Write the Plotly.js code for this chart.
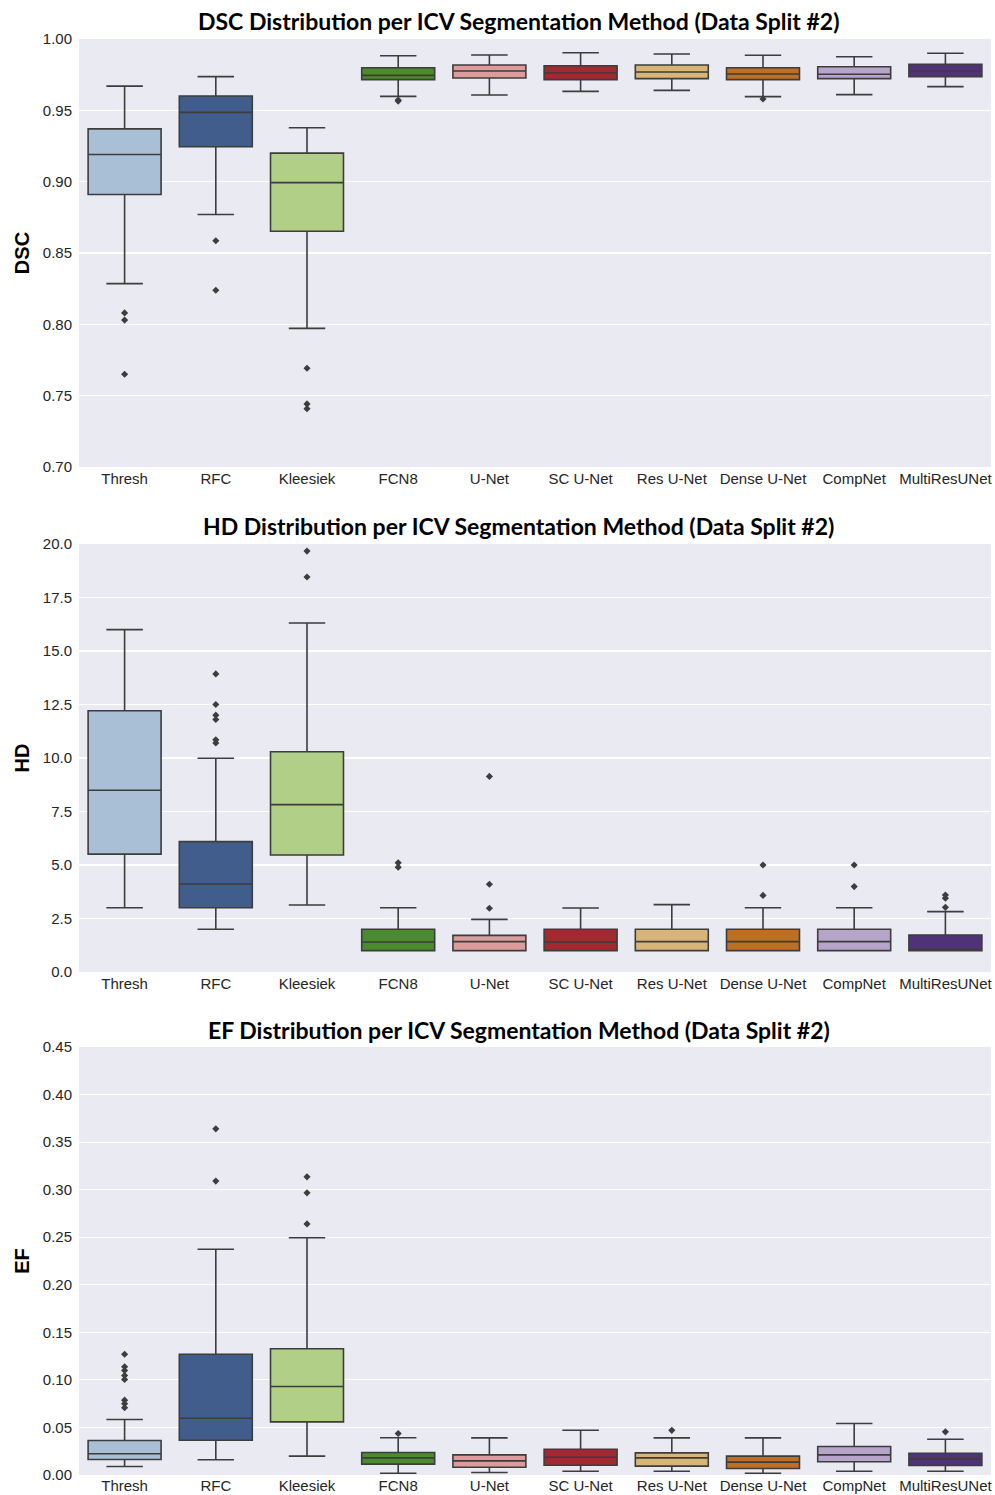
<!DOCTYPE html>
<html>
<head>
<meta charset="utf-8">
<script src="https://cdn.plot.ly/plotly-3.0.1.min.js"></script>
<style>html,body{margin:0;padding:0;background:#fff;}#chart{width:995px;height:1495px;}</style>
</head>
<body>
<div id="chart"></div>
<script>
const categories = ["Thresh","RFC","Kleesiek","FCN8","U-Net","SC U-Net","Res U-Net","Dense U-Net","CompNet","MultiResUNet"];
const boxColors = ["#a9bfd5","#405d8c","#b2cf88","#4b8a2e","#db9c9b","#a02a2f","#d8b477","#bc6f25","#b7a4ca","#503376"];

// DSC
const dscLower  = [0.8285,0.877,0.7972,0.9598,0.9607,0.9633,0.964,0.9596,0.961,0.9666];
const dscQ1     = [0.891,0.9245,0.8652,0.9715,0.9727,0.9715,0.9722,0.9715,0.9722,0.9736];
const dscMedian = [0.919,0.9486,0.8993,0.9745,0.9776,0.9762,0.9769,0.9755,0.9753,0.9774];
const dscQ3     = [0.937,0.960,0.920,0.9799,0.9818,0.9813,0.9818,0.9799,0.9806,0.9823];
const dscUpper  = [0.967,0.9736,0.9378,0.9883,0.9888,0.9904,0.9895,0.9886,0.9876,0.990];
const dscOutliers = [[0.808,0.803,0.765],[0.8586,0.8239],[0.7692,0.7442,0.7409],[0.9572,0.9565],[],[],[],[0.958],[],[]];

// HD
const hdLower  = [3.0,2.0,3.13,1.0,1.0,1.0,1.0,1.0,1.0,1.0];
const hdQ1     = [5.51,3.0,5.47,1.0,1.0,1.0,1.0,1.0,1.0,1.0];
const hdMedian = [8.49,4.11,7.82,1.40,1.42,1.40,1.42,1.42,1.42,1.0];
const hdQ3     = [12.21,6.09,10.29,2.0,1.71,2.0,2.0,2.0,2.0,1.73];
const hdUpper  = [16.0,9.99,16.31,3.0,2.46,2.99,3.15,3.0,3.0,2.82];
const hdOutliers = [[],[13.93,12.5,12.0,11.8,10.85,10.7],[19.67,18.46],[5.1,4.9],[9.14,4.1,2.98],[],[],[5.0,3.58],[5.0,3.99],[3.6,3.45,3.02]];

// EF
const efLower  = [0.0089,0.016,0.0198,0.0019,0.0026,0.004,0.004,0.0019,0.004,0.004];
const efQ1     = [0.0163,0.0366,0.0559,0.0114,0.0082,0.0103,0.0093,0.0068,0.0139,0.010];
const efMedian = [0.0223,0.0597,0.093,0.018,0.0149,0.0187,0.018,0.0135,0.0212,0.017];
const efQ3     = [0.0363,0.127,0.1327,0.0237,0.0212,0.0271,0.0233,0.0198,0.030,0.0229];
const efUpper  = [0.0584,0.2374,0.2494,0.0391,0.039,0.0471,0.039,0.039,0.0541,0.0376];
const efOutliers = [[0.127,0.1138,0.1099,0.1046,0.1004,0.0787,0.0749,0.0707],[0.364,0.309],[0.3135,0.2967,0.264],[0.0436],[],[],[0.047],[],[],[0.0454]];

const titles = [
  "DSC Distribution per ICV Segmentation Method (Data Split #2)",
  "HD Distribution per ICV Segmentation Method (Data Split #2)",
  "EF Distribution per ICV Segmentation Method (Data Split #2)"
];
const yTitles = ["DSC","HD","EF"];

const panels = [
  {lo:dscLower,q1:dscQ1,med:dscMedian,q3:dscQ3,hi:dscUpper,out:dscOutliers,xa:"x",ya:"y"},
  {lo:hdLower,q1:hdQ1,med:hdMedian,q3:hdQ3,hi:hdUpper,out:hdOutliers,xa:"x2",ya:"y2"},
  {lo:efLower,q1:efQ1,med:efMedian,q3:efQ3,hi:efUpper,out:efOutliers,xa:"x3",ya:"y3"}
];

const lineCol = "#3d3d3d";
const traces = [];
panels.forEach(p => {
  categories.forEach((c, i) => {
    traces.push({
      type: "box", x: [c],
      q1: [p.q1[i]], median: [p.med[i]], q3: [p.q3[i]],
      lowerfence: [p.lo[i]], upperfence: [p.hi[i]],
      boxpoints: false, width: 0.8, whiskerwidth: 0.5,
      fillcolor: boxColors[i], line: {color: lineCol, width: 1.6},
      xaxis: p.xa, yaxis: p.ya, showlegend: false, hoverinfo: "skip"
    });
  });
  const ox = [], oy = [];
  categories.forEach((c, i) => { p.out[i].forEach(v => { ox.push(c); oy.push(v); }); });
  traces.push({
    type: "scatter", mode: "markers", x: ox, y: oy,
    marker: {symbol: "diamond", size: 5.5, color: lineCol},
    xaxis: p.xa, yaxis: p.ya, showlegend: false, hoverinfo: "skip"
  });
});

const H = 1495;
const dom = (top, bot) => [1 - bot / H, 1 - top / H];
const FAM = '"Liberation Sans", Arial, sans-serif';
const tickFont = {family: FAM, size: 15, color: "#262626"};
const xBase = {type: "category", categoryorder: "array", categoryarray: categories,
  showgrid: false, zeroline: false, showline: false, ticks: "", tickfont: tickFont,
  ticklabelstandoff: 1, range: [-0.5, 9.5]};
const yBase = {showgrid: true, gridcolor: "#ffffff", gridwidth: 1.2, zeroline: false, showline: false,
  ticks: "", tickfont: tickFont, ticklabelstandoff: 6};
const yTitle = t => ({text: t, font: {family: FAM, size: 20, color: "#000", weight: "bold"}, standoff: 7});

const layout = {
  width: 995, height: 1495,
  margin: {l: 79, r: 3.5, t: 0, b: 0},
  paper_bgcolor: "#ffffff", plot_bgcolor: "#eaeaf2",
  boxmode: "overlay", showlegend: false,
  xaxis:  Object.assign({}, xBase, {domain: [0, 1], anchor: "y"}),
  xaxis2: Object.assign({}, xBase, {domain: [0, 1], anchor: "y2"}),
  xaxis3: Object.assign({}, xBase, {domain: [0, 1], anchor: "y3", ticklabelstandoff: 0}),
  yaxis:  Object.assign({}, yBase, {domain: dom(39, 467), anchor: "x", range: [0.70, 1.00], dtick: 0.05, tick0: 0, tickformat: ".2f", title: yTitle(yTitles[0])}),
  yaxis2: Object.assign({}, yBase, {domain: dom(544, 972), anchor: "x2", range: [0, 20], dtick: 2.5, tick0: 0, tickformat: ".1f", title: yTitle(yTitles[1])}),
  yaxis3: Object.assign({}, yBase, {domain: dom(1047, 1475), anchor: "x3", range: [0, 0.45], dtick: 0.05, tick0: 0, tickformat: ".2f", title: yTitle(yTitles[2])}),
  annotations: titles.map((t, k) => ({
    text: "<b>" + t + "</b>", xref: "paper", yref: "paper",
    x: 0.482, y: 1 - [21, 526, 1030][k] / H, xanchor: "center", yanchor: "middle",
    showarrow: false, font: {family: "Lato, Open Sans, sans-serif", size: 23, color: "#000"}
  }))
};

Plotly.newPlot("chart", traces, layout, {displayModeBar: false, staticPlot: true});
</script>
</body>
</html>
